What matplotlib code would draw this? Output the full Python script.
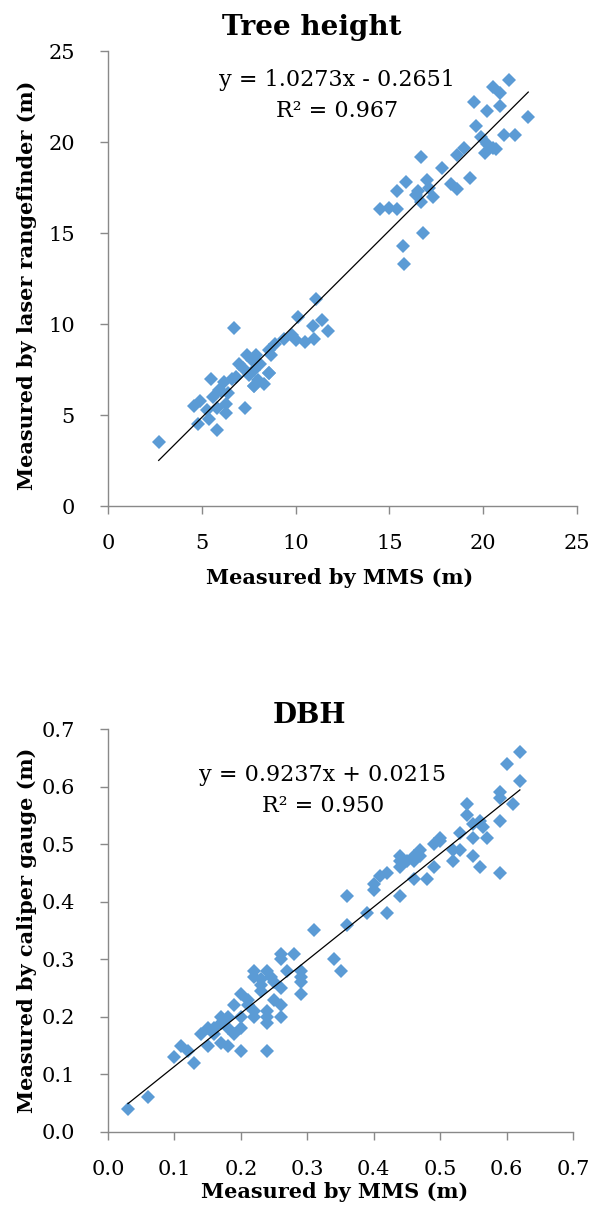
import numpy as np
import matplotlib
matplotlib.use('Agg')
import matplotlib.pyplot as plt
from matplotlib.ticker import FormatStrFormatter

plt.rcParams['font.family'] = ['DejaVu Serif']

# Tree height (m)
h_mms = [21.4, 20.5, 20.9, 19.5, 20.9, 20.2, 22.4, 19.6, 19.9, 21.1,
         21.7, 20.2, 20.5, 20.1, 20.7, 19.0, 18.6, 16.7, 17.8, 19.3,
         18.3, 18.6, 15.9, 15.4, 17.0, 16.5, 17.1, 17.3, 16.7, 16.4,
         14.5, 15.0, 15.4, 16.8, 15.7, 15.8,
         11.1, 10.1, 6.7, 11.4, 10.9, 11.7, 11.0, 10.5, 9.8, 9.4,
         8.9, 8.6, 8.7, 7.9, 7.4, 7.7, 7.0, 8.1, 7.8, 7.5,
         8.6, 8.3, 7.8, 6.6, 6.2, 5.5, 5.9, 6.4, 5.6, 6.3,
         4.9, 4.6, 5.3, 5.8, 6.3, 7.3, 5.4, 4.8, 5.8, 2.7,
         8.0, 8.6, 7.8, 10.0, 6.0, 6.8, 7.2]
h_laser = [23.4, 23.0, 22.7, 22.2, 22.0, 21.7, 21.4, 20.9, 20.3, 20.4,
           20.4, 19.9, 19.7, 19.4, 19.6, 19.7, 19.3, 19.2, 18.6, 18.0,
           17.7, 17.4, 17.8, 17.3, 17.9, 17.3, 17.5, 17.0, 16.7, 17.1,
           16.3, 16.4, 16.3, 15.0, 14.3, 13.3,
           11.4, 10.4, 9.8, 10.2, 9.9, 9.6, 9.2, 9.0, 9.4, 9.2,
           8.9, 8.6, 8.3, 8.3, 8.3, 8.0, 7.8, 7.8, 7.5, 7.2,
           7.3, 6.7, 6.6, 7.0, 6.8, 7.0, 6.4, 6.2, 6.0, 5.6,
           5.8, 5.5, 5.3, 5.4, 5.1, 5.4, 4.8, 4.5, 4.2, 3.5,
           6.9, 7.3, 6.6, 9.1, 6.3, 7.1, 7.6]
h_slope, h_icpt, h_r2 = 1.0273, -0.2651, 0.967

# DBH (m)
d_mms = [0.62, 0.60, 0.62, 0.59, 0.59, 0.61, 0.54, 0.54, 0.59, 0.56,
         0.565, 0.57, 0.55, 0.53, 0.53, 0.52, 0.55, 0.56, 0.59, 0.50,
         0.49, 0.47, 0.46, 0.44, 0.45, 0.49, 0.44, 0.46, 0.48, 0.42,
         0.41, 0.40, 0.40, 0.44, 0.42, 0.39, 0.36, 0.36, 0.31, 0.34,
         0.35, 0.28, 0.26, 0.26, 0.29, 0.29, 0.27, 0.25, 0.22, 0.24,
         0.23, 0.26, 0.29, 0.23, 0.20, 0.26, 0.25, 0.24, 0.22, 0.21,
         0.19, 0.20, 0.24, 0.26, 0.17, 0.19, 0.18, 0.17, 0.16, 0.15,
         0.14, 0.15, 0.18, 0.20, 0.24, 0.11, 0.12, 0.10, 0.13, 0.06,
         0.03, 0.18, 0.22, 0.20, 0.16,
         0.22, 0.245, 0.23, 0.29, 0.21, 0.24, 0.17, 0.55, 0.52, 0.46,
         0.47, 0.50, 0.44]
d_caliper = [0.66, 0.64, 0.61, 0.59, 0.58, 0.57, 0.57, 0.55, 0.54, 0.54,
             0.53, 0.51, 0.51, 0.52, 0.49, 0.47, 0.48, 0.46, 0.45, 0.51,
             0.50, 0.49, 0.48, 0.48, 0.47, 0.46, 0.46, 0.44, 0.44, 0.45,
             0.445, 0.43, 0.42, 0.41, 0.38, 0.38, 0.41, 0.36, 0.35, 0.30,
             0.28, 0.31, 0.31, 0.30, 0.28, 0.27, 0.28, 0.26, 0.28, 0.28,
             0.265, 0.25, 0.24, 0.245, 0.24, 0.22, 0.23, 0.21, 0.21, 0.22,
             0.22, 0.20, 0.19, 0.20, 0.20, 0.17, 0.18, 0.19, 0.17, 0.18,
             0.17, 0.15, 0.15, 0.14, 0.14, 0.15, 0.14, 0.13, 0.12, 0.06,
             0.04, 0.20, 0.20, 0.18, 0.18,
             0.27, 0.27, 0.255, 0.26, 0.23, 0.20, 0.155, 0.535, 0.49, 0.47,
             0.48, 0.505, 0.47]
d_slope, d_icpt, d_r2 = 0.9237, 0.0215, 0.950

blue = '#5B9BD5'
grey = '#898989'

fig = plt.figure(figsize=(5.9, 12.13), dpi=100)


def style_axes(ax):
    for s in ['top', 'right']:
        ax.spines[s].set_visible(False)
    for s in ['left', 'bottom']:
        ax.spines[s].set_color(grey)
        ax.spines[s].set_linewidth(1.0)
    ax.tick_params(direction='out', length=6, width=1.0, color=grey,
                   labelsize=15)
    ax.tick_params(axis='x', pad=14)
    ax.tick_params(axis='y', pad=18)


# top chart
ax1 = fig.add_axes([0.1831, 0.5828, 0.7949, 0.3751])
ax1.plot(h_mms, h_laser, 'D', color=blue, ms=7.2, mew=0, clip_on=False)
xl = np.array([min(h_mms), max(h_mms)])
ax1.plot(xl, h_slope * xl + h_icpt, color='black', lw=0.9)
ax1.set_xlim(0, 25)
ax1.set_ylim(0, 25)
ax1.set_xticks([0, 5, 10, 15, 20, 25])
ax1.set_yticks([0, 5, 10, 15, 20, 25])
style_axes(ax1)
ax1.text(0.488, 0.936, 'y = 1.0273x - 0.2651', transform=ax1.transAxes,
         ha='center', va='center', fontsize=16)
ax1.text(0.488, 0.868, 'R² = %.3f' % h_r2, transform=ax1.transAxes,
         ha='center', va='center', fontsize=16)

# bottom chart
ax2 = fig.add_axes([0.1831, 0.0668, 0.7881, 0.3322])
ax2.plot(d_mms, d_caliper, 'D', color=blue, ms=7.2, mew=0, clip_on=False)
xl = np.array([min(d_mms), max(d_mms)])
ax2.plot(xl, d_slope * xl + d_icpt, color='black', lw=0.9)
ax2.set_xlim(0, 0.7)
ax2.set_ylim(0, 0.7)
ax2.set_xticks(np.arange(0, 0.71, 0.1))
ax2.set_yticks(np.arange(0, 0.71, 0.1))
ax2.xaxis.set_major_formatter(FormatStrFormatter('%.1f'))
ax2.yaxis.set_major_formatter(FormatStrFormatter('%.1f'))
style_axes(ax2)
ax2.text(0.462, 0.886, 'y = 0.9237x + 0.0215', transform=ax2.transAxes,
         ha='center', va='center', fontsize=16)
ax2.text(0.462, 0.809, 'R² = %.3f' % d_r2, transform=ax2.transAxes,
         ha='center', va='center', fontsize=16)

# titles and axis labels placed in figure pixels
W, H = 590, 1213


def ftext(x, y, s, **kw):
    fig.text(x / W, 1 - y / H, s, **kw)


ftext(312, 35, 'Tree height', ha='center', va='baseline',
      fontsize=20, fontweight='bold')
ftext(309, 723, 'DBH', ha='center', va='baseline',
      fontsize=20, fontweight='bold')
ftext(340, 578, 'Measured by MMS (m)', ha='center', va='center',
      fontsize=15, fontweight='bold')
ftext(335, 1192, 'Measured by MMS (m)', ha='center', va='center',
      fontsize=15, fontweight='bold')
ftext(27, 285, 'Measured by laser rangefinder (m)', ha='center', va='center',
      rotation=90, fontsize=15, fontweight='bold')
ftext(27, 930, 'Measured by caliper gauge (m)', ha='center', va='center',
      rotation=90, fontsize=15, fontweight='bold')

fig.savefig('out.png', dpi=100)
